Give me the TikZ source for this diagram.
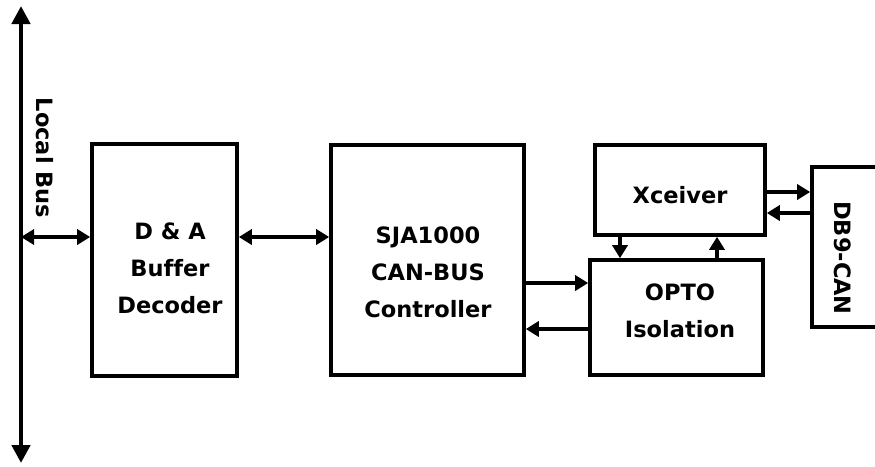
\documentclass[tikz,border=0pt]{standalone}
\usepackage{fontspec}
\setmainfont[Ligatures=NoCommon]{DejaVu Sans}
\usetikzlibrary{arrows.meta}
\begin{document}
\begin{tikzpicture}[x=1pt,y=-1pt,
  box/.style={draw, line width=3.6pt, inner sep=0pt},
  lbl/.style={font=\bfseries\fontsize{22.5}{37}\selectfont, align=center, inner sep=0pt},
  conn/.style={line width=3.6pt, -{Triangle[length=13pt,width=15pt]}},
  biconn/.style={line width=3.6pt, {Triangle[length=13pt,width=15pt]}-{Triangle[length=13pt,width=15pt]}},
  busline/.style={line width=4.5pt, {Triangle[length=18pt,width=18pt]}-{Triangle[length=18pt,width=18pt]}}]
\useasboundingbox (0,0) rectangle (875,466);
% boxes
\node[box, minimum width=145pt, minimum height=232pt] (da) at (164.5,260) {};
\node[box, minimum width=193pt, minimum height=230pt] (sja) at (427.5,260) {};
\node[box, minimum width=170pt, minimum height=90pt] (xc) at (680,190) {};
\node[box, minimum width=173pt, minimum height=115pt] (opto) at (676.5,317.5) {};
\node[box, minimum width=66pt, minimum height=160pt] (db) at (845,247) {};
% texts
\node[lbl] (tda) at (170,268) {D \& A\\Buffer\\Decoder};
\node[lbl] (tsja) at (428,272) {SJA1000\\CAN-BUS\\Controller};
\node[lbl] (txc) at (680,195) {Xceiver};
\node[lbl] (topto) at (680,311) {OPTO\\Isolation};
\node[lbl, rotate=-90] (tdb) at (843,258) {DB9-CAN};
\node[lbl, rotate=-90] (tbus) at (45,158) {Local Bus};
% bus
\coordinate (bt) at (21,6);
\coordinate (bb) at (21,463);
\draw[busline] (bb) -- (bt);
\coordinate (bj) at (21,237);
\coordinate (r1) at (0,283);
\coordinate (r2) at (0,329);
\coordinate (r3) at (0,192);
\coordinate (r4) at (0,213);
\coordinate (c1) at (620,0);
\coordinate (c2) at (717,0);
% connectors
\draw[biconn] (bj) -- (da.west |- bj);
\draw[biconn] (da.east |- bj) -- (sja.west |- bj);
\draw[conn] (sja.east |- r1) -- (opto.west |- r1);
\draw[conn] (opto.west |- r2) -- (sja.east |- r2);
\draw[conn] (xc.east |- r3) -- (db.west |- r3);
\draw[conn] (db.west |- r4) -- (xc.east |- r4);
\draw[conn] (xc.south -| c1) -- (opto.north -| c1);
\draw[conn] (opto.north -| c2) -- (xc.south -| c2);
\end{tikzpicture}
\end{document}
